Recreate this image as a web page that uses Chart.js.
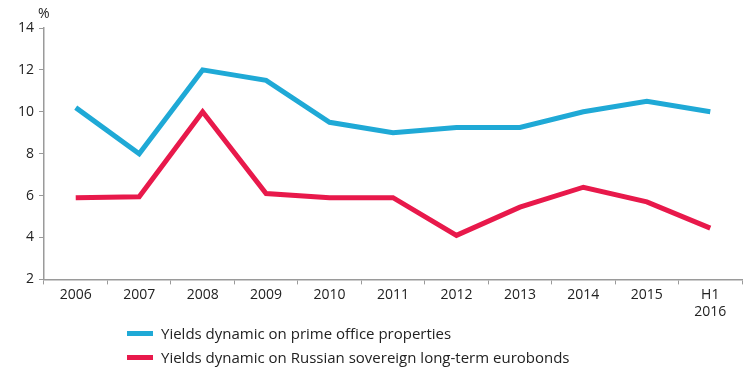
<!DOCTYPE html>
<html>
<head>
<meta charset="utf-8">
<script src="https://cdn.jsdelivr.net/npm/chart.js@4"></script>
<style>
  html, body { margin: 0; padding: 0; background: #fff; }
  #wrap { position: relative; width: 747px; height: 369px; }
  #legend { position: absolute; left: 127px; top: 321px; font-family: "Open Sans", sans-serif; font-size: 15px; color: #222; }
  #legend div { height: 24px; display: flex; align-items: center; }
  #legend span.sw { display: inline-block; width: 26px; height: 5px; margin-right: 8px; }
</style>
</head>
<body>
<div id="wrap">
  <canvas id="grafico" width="747" height="369"></canvas>
  <div id="legend"></div>
</div>
<script>
  // ---------- dados ----------
  const years = ["2006", "2007", "2008", "2009", "2010", "2011", "2012", "2013", "2014", "2015", ["H1", "2016"]];
  const officeYields = [10.2, 8.0, 12.0, 11.5, 9.5, 9.0, 9.25, 9.25, 10.0, 10.5, 10.0];
  const eurobondYields = [5.9, 5.95, 10.0, 6.1, 5.9, 5.9, 4.1, 5.45, 6.4, 5.7, 4.45];
  const yTicks = [2, 4, 6, 8, 10, 12, 14];

  const blue = "#1fa9d6";
  const red = "#e8194b";
  const axisGray = "#9a9a9a";
  const fontFamily = '"Open Sans", sans-serif';

  // "%" acima do eixo y
  const percentLabel = {
    id: "percentLabel",
    afterDraw(chart) {
      const c = chart.ctx;
      const y = chart.scales.y;
      c.save();
      c.font = "14px " + fontFamily;
      c.fillStyle = "#222";
      c.textAlign = "left";
      c.textBaseline = "middle";
      c.fillText("%", y.right - 6, 14);
      c.restore();
    }
  };

  const ctx = document.getElementById("grafico").getContext("2d");
  const chart = new Chart(ctx, {
    type: "line",
    data: {
      labels: years,
      datasets: [
        {
          label: "Yields dynamic on prime office properties",
          data: officeYields,
          borderColor: blue,
          backgroundColor: blue,
          borderWidth: 5,
          pointRadius: 0,
          tension: 0,
          borderJoinStyle: "miter"
        },
        {
          label: "Yields dynamic on Russian sovereign long-term eurobonds",
          data: eurobondYields,
          borderColor: red,
          backgroundColor: red,
          borderWidth: 5,
          pointRadius: 0,
          tension: 0,
          borderJoinStyle: "miter"
        }
      ]
    },
    options: {
      responsive: false,
      animation: false,
      layout: { padding: { top: 28, right: 5, bottom: 47, left: 0 } },
      plugins: {
        legend: { display: false },
        tooltip: { enabled: false }
      },
      scales: {
        x: {
          offset: true,
          grid: { offset: true, drawOnChartArea: false, drawTicks: true, tickLength: 5, color: axisGray },
          border: { color: axisGray, width: 1.5 },
          ticks: { color: "#222", font: { family: fontFamily, size: 14 }, padding: 2, maxRotation: 0, autoSkip: false }
        },
        y: {
          min: 2,
          max: 14,
          afterFit: (s) => { s.width = 44; },
          afterBuildTicks: (s) => { s.ticks = yTicks.map(v => ({ value: v })); },
          grid: { drawOnChartArea: false, drawTicks: true, tickLength: 5, color: axisGray },
          border: { color: axisGray, width: 1.5 },
          ticks: { color: "#222", font: { family: fontFamily, size: 14 }, padding: 5 }
        }
      }
    },
    plugins: [percentLabel]
  });

  // legenda em lista vertical, abaixo do gráfico
  const legendEl = document.getElementById("legend");
  chart.data.datasets.forEach(ds => {
    const row = document.createElement("div");
    const sw = document.createElement("span");
    sw.className = "sw";
    sw.style.background = ds.borderColor;
    row.appendChild(sw);
    row.appendChild(document.createTextNode(ds.label));
    legendEl.appendChild(row);
  });
</script>
</body>
</html>
